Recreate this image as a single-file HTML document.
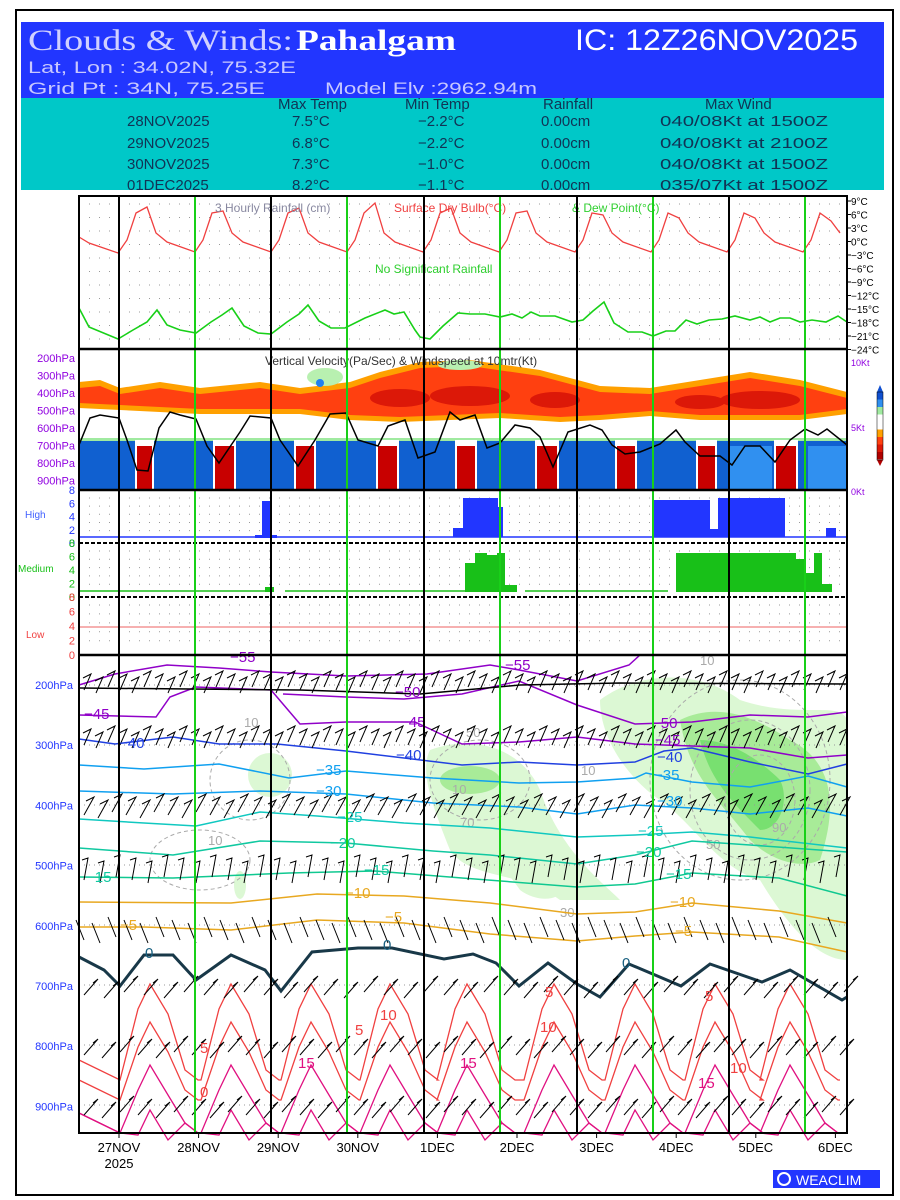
<!DOCTYPE html>
<html><head><meta charset="utf-8"><style>
body{margin:0;background:#fff;}
svg{display:block;font-family:"Liberation Sans",sans-serif;}
</style></head><body>
<svg id="s" width="900" height="1200" viewBox="0 0 900 1200" xmlns="http://www.w3.org/2000/svg">
<rect x="0" y="0" width="900" height="1200" fill="#fff"/>
<rect x="16" y="10" width="877" height="1185" fill="none" stroke="#000" stroke-width="2"/>
<rect x="21" y="22" width="863" height="76" fill="#2236ff"/>
<rect x="21" y="98" width="863" height="92" fill="#00c8c8"/>
<text x="28" y="50" font-family="Liberation Serif,serif" font-size="30" fill="#d0d0ff" textLength="265" lengthAdjust="spacingAndGlyphs">Clouds &amp; Winds:</text>
<text x="296" y="50" font-family="Liberation Serif,serif" font-size="30" fill="#fff" font-weight="bold" textLength="160" lengthAdjust="spacingAndGlyphs">Pahalgam</text>
<text x="575" y="50" font-size="30" fill="#fff" textLength="283" lengthAdjust="spacingAndGlyphs">IC: 12Z26NOV2025</text>
<text x="28" y="73" font-size="17" fill="#c8c8ff" textLength="268" lengthAdjust="spacingAndGlyphs">Lat, Lon : 34.02N, 75.32E</text>
<text x="28" y="94" font-size="17" fill="#c8c8ff" textLength="237" lengthAdjust="spacingAndGlyphs">Grid Pt  : 34N, 75.25E</text>
<text x="325" y="94" font-size="17" fill="#c8c8ff" textLength="212" lengthAdjust="spacingAndGlyphs">Model Elv :2962.94m</text>
<g font-size="15" fill="#135" >
<text x="278" y="109">Max Temp</text><text x="405" y="109">Min Temp</text><text x="543" y="109">Rainfall</text><text x="705" y="109">Max Wind</text>
<text x="127" y="126">28NOV2025</text><text x="292" y="126">7.5°C</text><text x="418" y="126">−2.2°C</text><text x="541" y="126">0.00cm</text><text x="660" y="126" textLength="168" lengthAdjust="spacingAndGlyphs">040/08Kt at 1500Z</text>
<text x="127" y="148">29NOV2025</text><text x="292" y="148">6.8°C</text><text x="418" y="148">−2.2°C</text><text x="541" y="148">0.00cm</text><text x="660" y="148" textLength="168" lengthAdjust="spacingAndGlyphs">040/08Kt at 2100Z</text>
<text x="127" y="169">30NOV2025</text><text x="292" y="169">7.3°C</text><text x="418" y="169">−1.0°C</text><text x="541" y="169">0.00cm</text><text x="660" y="169" textLength="168" lengthAdjust="spacingAndGlyphs">040/08Kt at 1500Z</text>
<text x="127" y="190">01DEC2025</text><text x="292" y="190">8.2°C</text><text x="418" y="190">−1.1°C</text><text x="541" y="190">0.00cm</text><text x="660" y="190" textLength="168" lengthAdjust="spacingAndGlyphs">035/07Kt at 1500Z</text>
</g>
<g id="g"></g>
<rect x="773" y="1170" width="107" height="18" fill="#2236ff"/>
<circle cx="784" cy="1179" r="6" fill="none" stroke="#fff" stroke-width="2"/>
<text x="796" y="1185" font-size="14" fill="#fff">WEACLIM</text>
</svg>
<script>
var G=document.getElementById('g'),o='';
function L(pts,c,w,extra){o+='<polyline points="'+pts.map(function(p){return p[0].toFixed(1)+','+p[1].toFixed(1)}).join(' ')+'" fill="none" stroke="'+c+'" stroke-width="'+(w||1.3)+'" '+(extra||'')+'/>';}
function T(x,y,s,c,fs,a){o+='<text x="'+x+'" y="'+y+'" font-size="'+(fs||11)+'" fill="'+c+'"'+(a?' text-anchor="'+a+'"':'')+'>'+s+'</text>';}
function R(x,y,w,h,c){o+='<rect x="'+x+'" y="'+y+'" width="'+w+'" height="'+h+'" fill="'+c+'"/>';}
var X0=79,X1=847;
function dots(y0,y1,step){for(var y=y0;y<=y1;y+=step){o+='<line x1="'+X0+'" y1="'+y+'" x2="'+X1+'" y2="'+y+'" stroke="#999" stroke-width="1" stroke-dasharray="1,9"/>';}}
dots(204,340,13.5);
var pk=[207,211,208,203,208,211,215,218,218,221];
var red=[[79,237],[89,243],[118,253]];
for(var k=0;k<10;k++){var b=119+76*k;red.push([b+8,240],[b+17,213],[b+28,pk[k]],[b+37,233],[b+48,242],[b+76,252]);}
L(red.filter(function(p){return p[0]<=847}),'#f04040',1.3);
var dp=[[79,308],[89,327],[118,339],[133,330],[147,322],[157,310],[167,325],[180,330],[196,333],[211,322],[222,315],[232,308],[244,326],[258,333],[271,334],[287,322],[299,314],[308,305],[319,321],[331,328],[345,328],[365,318],[385,310],[394,314],[404,312],[415,330],[420,337],[430,339],[443,326],[458,313],[470,314],[485,314],[500,317],[512,314],[522,318],[531,312],[540,316],[555,316],[572,322],[583,320],[593,311],[604,302],[614,323],[628,332],[642,332],[653,336],[666,331],[675,331],[686,320],[697,324],[709,320],[722,319],[735,316],[750,320],[760,317],[770,322],[780,318],[790,318],[800,322],[812,320],[826,322],[838,316],[847,322]];
L(dp,'#18d018',1.6);
T(215,212,'3 Hourly Rainfall (cm)','#8888a0',12);T(394,212,'Surface Dry Bulb(°C)','#f04040',12);T(572,212,'&amp; Dew Point(°C)','#30d030',12);
T(375,273,'No Significant Rainfall','#30d030',12);
var tl=['9','6','3','0','−3','−6','−9','−12','−15','−18','−21','−24'];
for(var i=0;i<12;i++){var y=201+13.5*i;T(851,y+4,tl[i]+'°C','#000',10);o+='<line x1="847" y1="'+y+'" x2="851" y2="'+y+'" stroke="#000"/>';}
R(79,380,768,40,'#fff');
var band=[[79,382],[100,380],[120,388],[160,382],[200,388],[260,382],[300,388],[350,382],[380,372],[420,362],[470,360],[540,370],[600,386],[650,388],[700,380],[750,372],[800,380],[847,392]];
var band2=[[79,408],[120,410],[200,414],[300,414],[350,420],[400,422],[450,420],[500,418],[560,422],[600,420],[650,416],[700,420],[760,420],[800,420],[847,414]];
o+='<polygon points="'+band.concat(band2.slice().reverse()).map(function(p){return p.join(',')}).join(' ')+'" fill="#ffa000"/>';
var b3=band.map(function(p){return [p[0],p[1]+6]}),b4=band2.map(function(p){return [p[0],p[1]-5]});
o+='<polygon points="'+b3.concat(b4.slice().reverse()).map(function(p){return p.join(',')}).join(' ')+'" fill="#ff4010"/>';
o+='<ellipse cx="400" cy="398" rx="30" ry="9" fill="#dc1808"/><ellipse cx="470" cy="396" rx="40" ry="10" fill="#dc1808"/><ellipse cx="555" cy="400" rx="25" ry="8" fill="#dc1808"/><ellipse cx="760" cy="400" rx="40" ry="9" fill="#dc1808"/><ellipse cx="700" cy="402" rx="25" ry="7" fill="#dc1808"/>';
o+='<ellipse cx="325" cy="377" rx="18" ry="9" fill="#b8f0b0"/><circle cx="320" cy="383" r="4" fill="#2080f0"/><ellipse cx="460" cy="365" rx="22" ry="5" fill="#b8f0b0"/>';
R(79,438,768,52,'#a0eaa0');
R(79,441,768,49,'#1060d0');
var rc=[[137,152],[215,234],[296,314],[378,397],[457,475],[537,557],[617,635],[698,715],[776,796]];
rc.forEach(function(c){R(c[0]-2,440,c[1]-c[0]+4,50,'#fff');R(c[0],446,c[1]-c[0],44,'#c80000');});
R(730,446,42,44,'#3090f0');R(808,446,39,44,'#3090f0');
var bl=[[79,445],[90,418],[100,415],[119,418],[127,440],[137,470],[148,471],[159,428],[170,412],[180,415],[196,419],[207,446],[219,463],[240,432],[250,416],[271,418],[280,440],[298,466],[315,440],[330,414],[346,413],[358,440],[378,446],[388,426],[405,420],[418,458],[435,452],[450,412],[460,420],[475,415],[487,448],[500,443],[515,425],[530,428],[540,437],[553,467],[568,432],[590,425],[602,430],[612,445],[625,454],[640,452],[660,444],[676,430],[685,442],[700,456],[720,456],[732,465],[745,446],[760,446],[775,462],[790,440],[805,429],[818,435],[827,429],[847,445]];
L(bl,'#000',1.5);
T(265,365,'Vertical Velocity(Pa/Sec) &amp; Windspeed at 10mtr(Kt)','#333',12);
var vl=['200','300','400','500','600','700','800','900'];
for(var i=0;i<8;i++){var y=358+17.5*i;T(75,y+4,vl[i]+'hPa','#9000e0',11,'end');}
T(851,366,'10Kt','#9000e0',9);T(851,431,'5Kt','#9000e0',9);T(851,495,'0Kt','#9000e0',9);
var cb=['#1050d0','#3090f0','#a0eaa0','#fff','#fff','#ffa000','#ff4010','#dc1808','#b00000'];
for(var i=0;i<9;i++)R(877,392+7.5*i,6,7.5,cb[i]);
o+='<polygon points="877,392 880,385 883,392" fill="#1050d0"/><polygon points="877,460 880,466 883,460" fill="#b00000"/>';
o+='<rect x="877" y="392" width="6" height="68" fill="none" stroke="#000" stroke-width="0.5"/>';
function cp(y0,y1,col,lab){dots(y0+8,y1-6,(y1-y0)/6.5);for(var i=0;i<=4;i++){var v=8-2*i,y=y0+(y1-y0)*i/4;T(75,y+4,v,col,11,'end');}}
cp(490,543,'#2236ff');cp(543,597,'#18c018');cp(597,655,'#f04040');
T(25,518,'High','#4060ff',10);T(18,572,'Medium','#18c018',10);T(26,638,'Low','#f04040',10);
L([[79,537],[847,537]],'#2236ff',1.5);
R(262,501,9,36,'#2236ff');R(255,535,22,3,'#2236ff');
R(453,528,10,9,'#2236ff');R(463,498,35,39,'#2236ff');R(498,507,5,30,'#2236ff');
R(653,500,57,37,'#2236ff');R(710,529,8,8,'#2236ff');R(718,498,2,39,'#2236ff');R(720,498,65,39,'#2236ff');R(826,528,10,9,'#2236ff');
L([[79,591],[268,591]],'#18c018',1.5);L([[285,591],[465,591]],'#18c018',1.5);L([[525,591],[668,591]],'#18c018',1.5);
R(265,587,9,5,'#18c018');R(465,563,10,29,'#18c018');R(475,553,12,39,'#18c018');R(487,555,10,37,'#18c018');R(497,553,8,39,'#18c018');R(505,585,12,7,'#18c018');
R(676,553,120,39,'#18c018');R(796,559,10,33,'#18c018');R(806,573,8,19,'#18c018');R(814,553,8,39,'#18c018');R(822,584,10,8,'#18c018');
L([[79,627],[847,627]],'#f08080',1.2);
o+='<line x1="79" y1="543" x2="847" y2="543" stroke="#000" stroke-width="2" stroke-dasharray="4,2"/><line x1="79" y1="597" x2="847" y2="597" stroke="#000" stroke-width="2" stroke-dasharray="4,2"/>';
var sh='#dcf8d4',sh2='#a8eb98',sh3='#78e070';
o+='<path d="M430,750 C470,735 520,745 540,790 C560,850 600,880 620,900 L560,900 C520,870 470,880 450,850 C430,800 420,770 430,750Z" fill="'+sh+'"/>';
o+='<path d="M600,700 C640,670 700,670 740,700 C800,720 840,700 847,720 L847,960 C820,960 790,930 760,880 C720,870 690,820 660,800 C630,780 600,740 600,700Z" fill="'+sh+'"/>';
o+='<path d="M680,720 C720,700 760,720 790,740 C830,760 840,800 820,860 C800,870 770,860 750,840 C720,800 690,780 680,720Z" fill="'+sh2+'"/>';
o+='<path d="M700,740 C730,740 760,760 780,780 C790,800 780,830 760,830 C730,800 710,780 700,740Z" fill="'+sh3+'"/>';
o+='<ellipse cx="270" cy="775" rx="22" ry="22" fill="'+sh+'"/><ellipse cx="470" cy="780" rx="30" ry="14" fill="'+sh2+'"/><ellipse cx="240" cy="885" rx="6" ry="14" fill="'+sh+'"/>';
o+='<path d="M480,800 C520,810 540,840 560,880 C570,900 540,905 520,890 C500,860 470,840 480,800Z" fill="'+sh+'"/>';
o+='<g fill="none" stroke="#aaa" stroke-dasharray="4,3" stroke-width="1"><ellipse cx="480" cy="780" rx="50" ry="40"/><ellipse cx="740" cy="780" rx="90" ry="100"/><ellipse cx="750" cy="790" rx="60" ry="70"/><ellipse cx="760" cy="800" rx="35" ry="45"/><ellipse cx="250" cy="780" rx="40" ry="40"/><ellipse cx="200" cy="860" rx="50" ry="30"/></g>';
T(244,727,'10','#aaa',13);T(466,737,'50','#aaa',13);T(460,827,'70','#aaa',13);T(452,794,'10','#aaa',13);T(581,775,'10','#aaa',13);T(208,845,'10','#aaa',13);T(772,832,'90','#aaa',13);T(706,849,'50','#aaa',13);T(700,665,'10','#aaa',13);T(560,917,'30','#aaa',13);
for(var i=0;i<8;i++){var y=685+60*i;o+='<line x1="79" y1="'+y+'" x2="847" y2="'+y+'" stroke="#999" stroke-dasharray="1,4"/>';}
function C(pts,c,w){L(pts,c,w||1.5);}
C([[79,685],[115,674],[167,665],[219,668],[271,672],[346,676],[427,674],[490,665],[519,670],[577,681],[629,665],[640,655]],'#9000c8');
C([[283,694],[346,697],[404,699],[462,694],[519,681],[577,705],[635,724],[692,722],[750,715],[808,717],[847,712]],'#9000c8');
C([[79,715],[156,717],[170,697],[196,687],[271,690],[300,724],[346,722],[415,722],[462,744],[519,742],[577,737],[635,744],[692,746],[750,748],[808,758],[847,755]],'#9000c8');
C([[79,739],[115,744],[173,737],[219,744],[277,744],[346,751],[404,758],[462,765],[519,762],[577,765],[635,762],[664,751],[692,748],[750,762],[808,774],[847,764]],'#2040e0');
C([[79,765],[144,769],[219,764],[289,778],[346,771],[433,778],[519,783],[577,782],[635,778],[646,773],[692,782],[750,787],[808,776],[847,787]],'#10a0f0');
C([[79,791],[173,794],[260,791],[346,794],[433,803],[519,807],[577,814],[635,805],[692,808],[750,814],[808,808],[847,816]],'#10a0f0');
C([[79,819],[144,823],[196,826],[260,812],[317,816],[404,823],[490,828],[577,837],[635,835],[692,832],[750,837],[847,848]],'#10c8c0');
C([[79,848],[173,855],[260,841],[346,843],[433,851],[490,855],[577,864],[635,855],[692,841],[750,845],[847,852]],'#10c8a0');
C([[79,877],[173,878],[289,873],[375,871],[462,878],[577,887],[635,884],[692,873],[779,878],[847,896]],'#10c890');
C([[79,902],[231,903],[317,894],[404,896],[490,903],[577,914],[635,912],[692,903],[779,911],[847,923]],'#e8a820');
C([[79,927],[144,927],[231,930],[317,920],[404,923],[490,934],[577,941],[635,936],[692,932],[779,937],[847,952]],'#e8a820');
C([[79,957],[104,970],[120,986],[144,955],[173,955],[196,980],[231,955],[265,970],[281,991],[312,952],[358,948],[392,948],[444,959],[473,954],[496,963],[519,986],[548,963],[577,984],[600,997],[629,964],[681,986],[710,964],[762,982],[790,970],[842,1000],[847,997]],'#183848',3);
var pks=[150,231,311,390,467,554,635,715,790,870];
function D(py,ty,c,w){var p=[[79,ty-20]];pks.forEach(function(x){p.push([x-30,ty],[x-12,py+25],[x,py],[x+18,py+30],[x+35,ty-10],[x+48,ty]);});L(p.filter(function(q){return q[0]<=847&&q[0]>=79}),c,w||1.3);}
D(984,1080,'#f04040');D(1022,1100,'#f04040');D(1065,1133,'#e01080');D(1110,1133,'#e01080');
var bo='';
function row(y,dx,dy,fl,step,x0,x1){var n=0;for(var x=x0;x<=x1;x+=step){n++;var j=(n%3)-1;bo+='M'+x+','+(y+j*3)+'l'+dx+','+dy+'l'+fl[0]+','+fl[1];}}
row(690,7,-16,[-8,4],12,84,845);row(745,7,-16,[-8,4],12,84,845);
row(815,10,-18,[-8,4],14,84,845);
row(880,4,-22,[-6,2],16,84,845);row(940,-8,-20,[0,0],16,84,845);row(995,14,-16,[-5,4],20,84,845);row(1055,14,-16,[-5,4],18,84,845);row(1115,14,-16,[-5,4],18,84,845);
o+='<path d="'+bo+'" stroke="#000" stroke-width="1" fill="none"/>';
L([[79,688],[300,690],[420,694],[520,685],[620,683],[847,684]],'#000',1.5);
var lb=[[230,662,'−55','#9000c8'],[505,670,'−55','#9000c8'],[395,697,'−50','#9000c8'],[652,728,'−50','#9000c8'],[84,719,'−45','#9000c8'],[400,727,'−45','#9000c8'],[655,745,'−45','#9000c8'],[119,748,'−40','#2040e0'],[396,760,'−40','#2040e0'],[657,762,'−40','#2040e0'],[316,775,'−35','#10a0f0'],[654,780,'−35','#10a0f0'],[316,796,'−30','#10a0f0'],[657,806,'−30','#10a0f0'],[337,822,'−25','#10c8c0'],[638,836,'−25','#10c8c0'],[330,848,'−20','#10c8a0'],[636,857,'−20','#10c8a0'],[86,882,'−15','#10c8a0'],[364,875,'−15','#10c8a0'],[666,879,'−15','#10c8a0'],[345,898,'−10','#e8a820'],[670,907,'−10','#e8a820'],[120,930,'−5','#e8a820'],[385,922,'−5','#e8a820'],[675,936,'−5','#e8a820'],[145,958,'0','#186080'],[383,950,'0','#186080'],[622,968,'0','#186080'],[545,997,'5','#f04040'],[705,1001,'5','#f04040'],[200,1053,'5','#f04040'],[355,1035,'5','#f04040'],[380,1020,'10','#f04040'],[540,1032,'10','#f04040'],[730,1073,'10','#f04040'],[298,1068,'15','#e01080'],[460,1068,'15','#e01080'],[698,1088,'15','#e01080'],[200,1097,'0','#f04040']];
lb.forEach(function(a){T(a[0],a[1],a[2],a[3],15);});
for(var i=0;i<8;i++){var y=685+60.2*i;T(73,y+4,vl[i]+'hPa','#2236ff',11,'end');}
[119,271,424,577,729].forEach(function(x){o+='<line x1="'+x+'" y1="196" x2="'+x+'" y2="1133" stroke="#000" stroke-width="2"/>';});
[195,347,500,653,805].forEach(function(x){o+='<line x1="'+x+'" y1="196" x2="'+x+'" y2="1133" stroke="#18d018" stroke-width="2"/>';});
o+='<rect x="79" y="196" width="768" height="937" fill="none" stroke="#000" stroke-width="2"/>';
[349,490,655].forEach(function(y){o+='<line x1="79" y1="'+y+'" x2="847" y2="'+y+'" stroke="#000" stroke-width="2.5"/>';});
var dl=['27NOV','28NOV','29NOV','30NOV','1DEC','2DEC','3DEC','4DEC','5DEC','6DEC'];
for(var i=0;i<10;i++){var x=119+79.6*i;T(x,1152,dl[i],'#000',13,'middle');o+='<line x1="'+x+'" y1="1133" x2="'+x+'" y2="1138" stroke="#000"/>';}
T(119,1168,'2025','#000',13,'middle');
G.innerHTML=o;
</script>
</body></html>
